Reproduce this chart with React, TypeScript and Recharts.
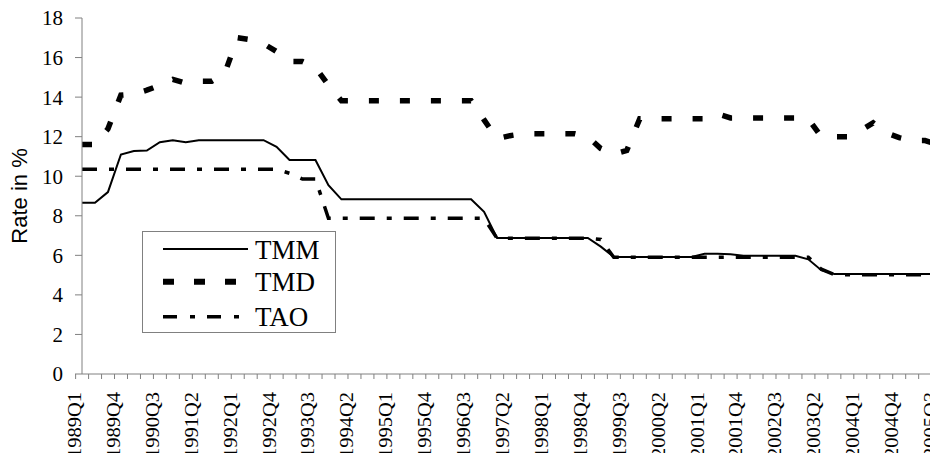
import React from 'react';
import { LineChart, Line, XAxis, YAxis, Legend } from 'recharts';

const quarters = [
  '1989Q1','1989Q2','1989Q3','1989Q4','1990Q1','1990Q2','1990Q3','1990Q4',
  '1991Q1','1991Q2','1991Q3','1991Q4','1992Q1','1992Q2','1992Q3','1992Q4',
  '1993Q1','1993Q2','1993Q3','1993Q4','1994Q1','1994Q2','1994Q3','1994Q4',
  '1995Q1','1995Q2','1995Q3','1995Q4','1996Q1','1996Q2','1996Q3','1996Q4',
  '1997Q1','1997Q2','1997Q3','1997Q4','1998Q1','1998Q2','1998Q3','1998Q4',
  '1999Q1','1999Q2','1999Q3','1999Q4','2000Q1','2000Q2','2000Q3','2000Q4',
  '2001Q1','2001Q2','2001Q3','2001Q4','2002Q1','2002Q2','2002Q3','2002Q4',
  '2003Q1','2003Q2','2003Q3','2003Q4','2004Q1','2004Q2','2004Q3','2004Q4',
  '2005Q1','2005Q2','2005Q3','2005Q4',
];

const tmm = [
  8.66, 8.66, 9.2, 11.1, 11.27, 11.3, 11.72, 11.82, 11.72, 11.82,
  11.82, 11.82, 11.82, 11.82, 11.82, 11.49, 10.82, 10.82, 10.82, 9.55,
  8.83, 8.83, 8.83, 8.83, 8.83, 8.83, 8.83, 8.83, 8.83, 8.83,
  8.83, 8.2, 6.88, 6.88, 6.88, 6.88, 6.88, 6.88, 6.88, 6.88,
  6.44, 5.92, 5.92, 5.92, 5.92, 5.92, 5.92, 5.92, 6.08, 6.08,
  6.05, 5.98, 5.98, 5.98, 5.98, 5.98, 5.8, 5.25, 5.05, 5.05,
  5.05, 5.05, 5.05, 5.05, 5.05, 5.05, 5.05, 5.05,
];

const tmd = [
  11.6, 11.6, 12.4, 14.1, 14.15, 14.35, 14.6, 14.9, 14.7, 14.8,
  14.8, 15.2, 17.0, 16.9, 16.7, 16.3, 15.8, 15.8, 15.5, 14.6,
  13.82, 13.82, 13.82, 13.82, 13.82, 13.82, 13.82, 13.82, 13.82, 13.82,
  13.82, 12.85, 11.9, 12.05, 12.15, 12.15, 12.15, 12.15, 12.15, 12.0,
  11.4, 11.12, 11.3, 12.9, 12.9, 12.9, 12.9, 12.9, 12.9, 13.15,
  12.95, 12.95, 12.95, 12.95, 12.95, 12.95, 12.9, 12.0, 12.0, 12.0,
  12.3, 12.7, 12.2, 11.95, 11.8, 11.8, 11.6, 11.35,
];

const tao = [
  10.35, 10.35, 10.35, 10.35, 10.35, 10.35, 10.35, 10.35, 10.35, 10.35,
  10.35, 10.35, 10.35, 10.35, 10.35, 10.35, 10.15, 9.86, 9.86, 7.87,
  7.87, 7.87, 7.87, 7.87, 7.87, 7.87, 7.87, 7.87, 7.87, 7.87,
  7.87, 7.87, 6.86, 6.86, 6.86, 6.86, 6.86, 6.86, 6.86, 6.86,
  6.8, 5.9, 5.9, 5.9, 5.9, 5.9, 5.9, 5.9, 5.9, 5.9,
  5.9, 5.9, 5.9, 5.9, 5.9, 5.9, 5.9, 5.3, 5.02, 5.02,
  5.02, 5.02, 5.02, 5.02, 5.02, 5.02, 5.02, 5.02,
];

const yTicks = [0, 2, 4, 6, 8, 10, 12, 14, 16, 18];
const seriesNames = ['TMM', 'TMD', 'TAO'];
const yTitle = 'Rate in %';

const rows = quarters.map((q, i) => ({ q, TMM: tmm[i], TMD: tmd[i], TAO: tao[i] }));

const SERIF = "'Liberation Serif', 'Times New Roman', serif";
const SANS = "'Liberation Sans', Arial, sans-serif";
const AXIS = '#808080';

const CHART_W = 951;
const CHART_H = 461;
const Y_AXIS_W = 82;
const BAND = (CHART_W - Y_AXIS_W) / quarters.length;

const styles: Record<string, { dash?: string; width: number }> = {
  TMM: { width: 2 },
  TMD: { dash: '10 21', width: 5.5 },
  TAO: { dash: '15 12 5 12', width: 3.5 },
};

function XTick(props: any) {
  const { x, y, payload } = props;
  const i = quarters.indexOf(payload.value);
  const bx = x - BAND / 2;
  const tx = x - 1;
  const ty = y + 18;
  return (
    <g>
      <line x1={bx} y1={y} x2={bx} y2={y + 5} stroke={AXIS} strokeWidth={1} />
      {i % 3 === 0 ? (
        <text
          x={tx}
          y={ty}
          transform={`rotate(-90, ${tx}, ${ty})`}
          textAnchor="end"
          fontFamily={SERIF}
          fontSize={18}
          textLength={66}
          lengthAdjust="spacingAndGlyphs"
          fill="#000"
        >
          {payload.value}
        </text>
      ) : null}
    </g>
  );
}

function YTitle(props: any) {
  const vb = props.viewBox || { x: 0, y: 18, width: 82, height: 356 };
  const cx = vb.x + 26.7;
  const cy = vb.y + vb.height / 2;
  return (
    <text
      x={cx}
      y={cy}
      transform={`rotate(-90, ${cx}, ${cy})`}
      textAnchor="middle"
      fontFamily={SANS}
      fontSize={22}
      fill="#000"
    >
      {yTitle}
    </text>
  );
}

function LegendBox() {
  const rowsY = [18, 50.7, 85.7];
  return (
    <svg width={194} height={102} style={{ display: 'block' }}>
      <rect x={0.5} y={0.5} width={193} height={101} fill="#fff" stroke={AXIS} strokeWidth={1} />
      {seriesNames.map((name, k) => (
        <g key={name}>
          <line
            x1={21}
            x2={106}
            y1={rowsY[k]}
            y2={rowsY[k]}
            stroke="#000"
            strokeWidth={k === 1 ? 6 : styles[name].width}
            strokeDasharray={k === 1 ? '11 20' : k === 2 ? '14 13 5 12' : undefined}
          />
          <text x={113} y={rowsY[k] + 9.5} fontFamily={SERIF} fontSize={27} fill="#000">
            {name}
          </text>
        </g>
      ))}
    </svg>
  );
}

export default function App() {
  return (
    <div style={{ margin: -8, width: 938, height: 461, overflow: 'hidden', background: '#fff' }}>
      <LineChart
        width={CHART_W}
        height={CHART_H}
        data={rows}
        margin={{ top: 18, right: 0, bottom: 0, left: 0 }}
      >
        <XAxis
          dataKey="q"
          height={87}
          interval={0}
          tickLine={false}
          tickSize={0}
          tickMargin={0}
          axisLine={{ stroke: AXIS, strokeWidth: 1 }}
          tick={<XTick />}
        />
        <YAxis
          width={Y_AXIS_W}
          domain={[0, 18]}
          ticks={yTicks}
          interval={0}
          tickSize={7}
          tickMargin={12}
          axisLine={{ stroke: AXIS, strokeWidth: 1 }}
          tickLine={{ stroke: AXIS, strokeWidth: 1 }}
          tick={{ fill: '#000', fontSize: 21, fontFamily: SERIF }}
          label={<YTitle />}
        />
        <Legend
          layout="vertical"
          align="center"
          verticalAlign="middle"
          content={<LegendBox />}
          wrapperStyle={{ left: 142, top: 231, width: 194, height: 102 }}
        />
        {seriesNames.map((name) => (
          <Line
            key={name}
            type="linear"
            dataKey={name}
            stroke="#000"
            strokeWidth={styles[name].width}
            strokeDasharray={styles[name].dash}
            dot={false}
            activeDot={false}
            isAnimationActive={false}
          />
        ))}
      </LineChart>
    </div>
  );
}
